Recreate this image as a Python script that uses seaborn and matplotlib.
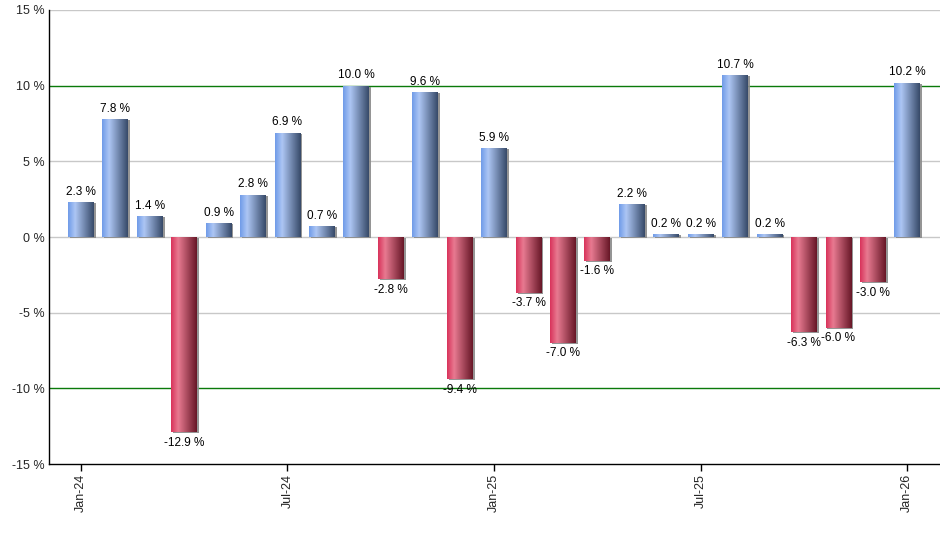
import numpy as np
import seaborn as sns
import matplotlib.pyplot as plt
import matplotlib.patheffects as pe
from matplotlib.colors import LinearSegmentedColormap

sns.set_theme(style="white")
plt.rcParams['font.family'] = ['Liberation Sans', 'DejaVu Sans']

# Monthly returns, Jan-24 .. Jan-26
months = ['Jan-24', 'Feb-24', 'Mar-24', 'Apr-24', 'May-24', 'Jun-24', 'Jul-24', 'Aug-24',
          'Sep-24', 'Oct-24', 'Nov-24', 'Dec-24', 'Jan-25', 'Feb-25', 'Mar-25', 'Apr-25',
          'May-25', 'Jun-25', 'Jul-25', 'Aug-25', 'Sep-25', 'Oct-25', 'Nov-25', 'Dec-25', 'Jan-26']
returns = [2.3, 7.8, 1.4, -12.9, 0.9, 2.8, 6.9, 0.7, 10.0, -2.8, 9.6, -9.4, 5.9,
           -3.7, -7.0, -1.6, 2.2, 0.2, 0.2, 10.7, 0.2, -6.3, -6.0, -3.0, 10.2]
tick_labels = ['Jan-24', 'Jul-24', 'Jan-25', 'Jul-25', 'Jan-26']
y_ticks = [-15, -10, -5, 0, 5, 10, 15]

blue_cmap = LinearSegmentedColormap.from_list(
    'blue', [(0, '#6f9be8'), (0.28, '#adc6f4'), (1, '#364968')])
red_cmap = LinearSegmentedColormap.from_list(
    'red', [(0, '#d8325a'), (0.28, '#e87a91'), (1, '#661626')])

fig = plt.figure(figsize=(9.4, 5.5), dpi=100)
ax = fig.add_axes([0.052, 0.156, 0.948, 0.826])

sns.barplot(x=months, y=returns, color='#7aa0e8', width=0.75, ax=ax, zorder=3)

# gradient fill + thin shadow on every bar
grad = np.linspace(0, 1, 256).reshape(1, -1)
for patch, v in zip(ax.patches, returns):
    x0, y0 = patch.get_x(), patch.get_y()
    w, h = patch.get_width(), patch.get_height()
    patch.set_facecolor('none')
    patch.set_edgecolor('none')
    patch.set_path_effects([pe.SimplePatchShadow(offset=(1.4, -0.7), shadow_rgbFace='#8a8a8a', alpha=0.9),
                            pe.Normal()])
    im = ax.imshow(grad, cmap=blue_cmap if v >= 0 else red_cmap, aspect='auto',
                   extent=(x0, x0 + w, min(y0, y0 + h), max(y0, y0 + h)), zorder=4)
    im.set_clip_path(patch)

ax.set_xlim(-0.93, 24.95)
ax.set_ylim(-15, 15)

# value labels
ax.bar_label(ax.containers[0], labels=[f"{v:.1f} %" for v in returns],
             padding=3, fontsize=8.5, color='black', zorder=5)

# grid / reference lines
for y in [15, 5, 0, -5]:
    ax.axhline(y, color='#c8c8c8', linewidth=1, zorder=1)
for y in [10, -10]:
    ax.axhline(y, color='#0a7a0a', linewidth=1, zorder=2)

ax.set_yticks(y_ticks)
ax.set_yticklabels([f"{t} %" for t in y_ticks], fontsize=9)
ax.set_xticks([months.index(m) for m in tick_labels])
ax.set_xticklabels(tick_labels, rotation=90, fontsize=9)
ax.tick_params(axis='x', length=5, width=1, color='black', bottom=True, pad=2)
ax.tick_params(axis='y', length=0, pad=3)

for side in ['top', 'right']:
    ax.spines[side].set_visible(False)
for side in ['left', 'bottom']:
    ax.spines[side].set_color('black')
    ax.spines[side].set_linewidth(1)
ax.set_xlabel('')
ax.set_ylabel('')

fig.savefig('out.png', dpi=100)
